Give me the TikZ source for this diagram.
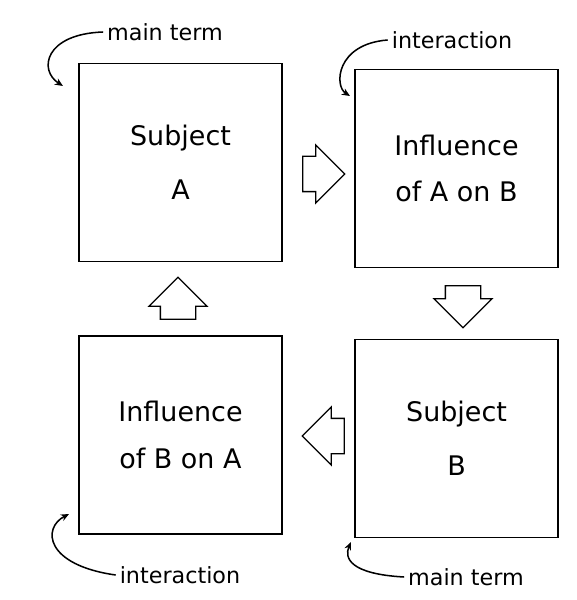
\documentclass[tikz,border=0pt]{standalone}
\usepackage{fontspec}
\setsansfont{DejaVu Sans}
\usetikzlibrary{shapes.arrows,arrows.meta}
\tikzset{
  box/.style={draw, line width=1.4pt, align=center, font=\sffamily\fontsize{23}{40}\selectfont,
    minimum width=6.1cm, minimum height=5.95cm, inner sep=0pt},
  blockarrow/.style={draw, line width=1.1pt, single arrow, single arrow head extend=0.34cm,
    minimum height=1.26cm, inner xsep=0pt, inner ysep=0.51cm},
  blockarrowv/.style={blockarrow, inner xsep=0.51cm, inner ysep=0pt},
  note/.style={font=\sffamily\fontsize{19}{22}\selectfont},
  hook/.style={line width=1.3pt, -{Stealth[length=7pt,width=6pt]}}
}
\begin{document}
\begin{tikzpicture}[x=0.03cm,y=-0.03cm]
        \useasboundingbox (0,0) rectangle (576,600);

        % Riquadri
        \node[box] (subA) at (180.5,162.5) {Subject\\[6pt]A};
        \node[box] (inflAB) at (456.5,168.5) {Influence\\of A on B};
        \node[box] (subB) at (456.5,438.5) {Subject\\[6pt]B};
        \node[box] (inflBA) at (180.5,435) {Influence\\of B on A};

        % Frecce larghe tra i riquadri
        \node[blockarrow] (toAB) at (315,174) {};
        \node[blockarrowv, shape border rotate=270] (toB) at (463,298) {};
        \node[blockarrow, shape border rotate=180] (toBA) at (332,436) {};
        \node[blockarrowv, shape border rotate=90] (toA) at (178,307) {};

        % Etichette
        \node[note] (mainA) at (165,32) {main term};
        \node[note] (interAB) at (452,40) {interaction};
        \node[note] (interBA) at (180,575) {interaction};
        \node[note] (mainB) at (466,577) {main term};

        % Punte delle frecce curve
        \coordinate (hA) at (63,86);
        \coordinate (hAB) at (350,96);
        \coordinate (hBA) at (69,514);
        \coordinate (hB) at (351,542);

        % Frecce curve
        \draw[hook] (mainA.west) .. controls (45,34) and (38,70) .. (hA);
        \draw[hook] (interAB.west) .. controls (336,44) and (334,86) .. (hAB);
        \draw[hook] (interBA.west) .. controls (45,565) and (42,528) .. (hBA);
        \draw[hook] (mainB.west) .. controls (350,574) and (344,558) .. (hB);

    \end{tikzpicture}
\end{document}
